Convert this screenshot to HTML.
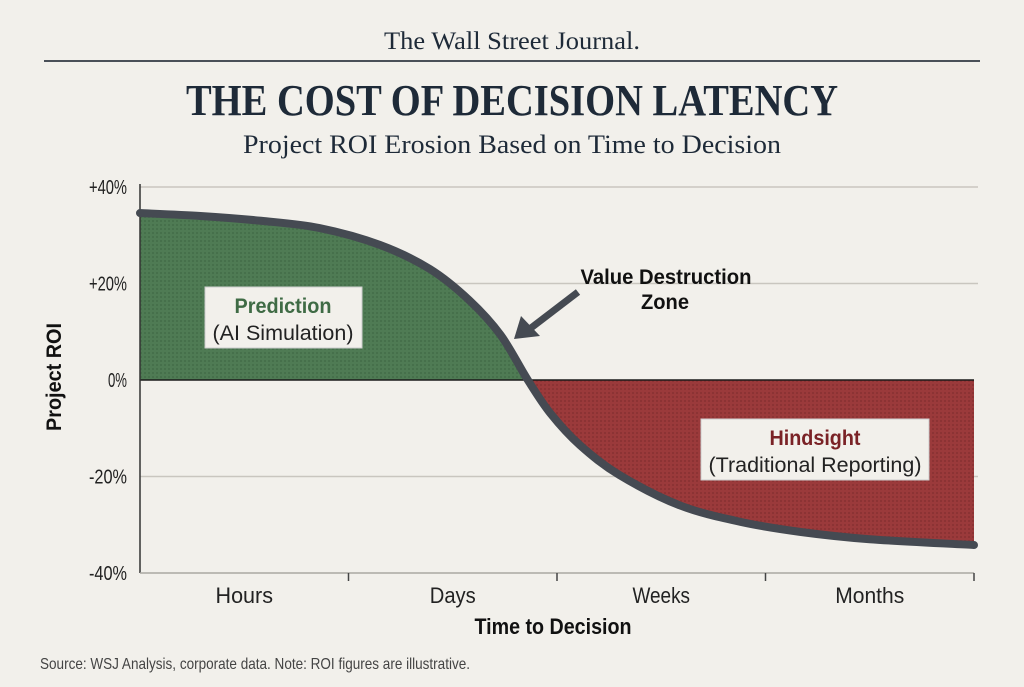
<!DOCTYPE html>
<html><head><meta charset="utf-8">
<style>
html,body{margin:0;padding:0;background:#f2f0eb;}
svg{display:block;}
.serif{font-family:"Liberation Serif",serif;}
.sans{font-family:"Liberation Sans Narrow","Liberation Sans",sans-serif;}
</style></head>
<body>
<svg id="chart" width="1024" height="687" viewBox="0 0 1024 687" xmlns="http://www.w3.org/2000/svg">
<defs>
<pattern id="dotG" width="4" height="4" patternUnits="userSpaceOnUse"><rect width="4" height="4" fill="#4f7b54"/><rect width="2" height="2" fill="#46704b"/></pattern>
<pattern id="dotR" width="4" height="4" patternUnits="userSpaceOnUse"><rect width="4" height="4" fill="#9b3a3b"/><rect width="2" height="2" fill="#8c3334"/></pattern>
</defs>
<rect width="1024" height="687" fill="#f2f0eb"/>
<text x="512" y="49" text-anchor="middle" class="serif" font-size="25" fill="#1e2a38" textLength="256" lengthAdjust="spacingAndGlyphs">The Wall Street Journal.</text>
<line x1="44" y1="61" x2="980" y2="61" stroke="#4a5058" stroke-width="2"/>
<text x="512" y="115" text-anchor="middle" class="serif" font-weight="bold" font-size="44" fill="#1e2a38" textLength="652" lengthAdjust="spacingAndGlyphs">THE COST OF DECISION LATENCY</text>
<text x="512" y="153" text-anchor="middle" class="serif" font-size="26" fill="#1e2a38" textLength="538" lengthAdjust="spacingAndGlyphs">Project ROI Erosion Based on Time to Decision</text>
<g id="plot"></g>
<text x="40" y="669" class="sans" font-size="16" fill="#444" textLength="430" lengthAdjust="spacingAndGlyphs">Source: WSJ Analysis, corporate data. Note: ROI figures are illustrative.</text>
</svg>
<script>
const categories = ["Hours","Days","Weeks","Months"];
const yTicks = [40,20,0,-20,-40];
const yTickLabels = ["+40%","+20%","0%","-20%","-40%"];
const curveT = [0,0.29,0.58,0.86,1.15,1.39,1.58,1.73,1.86,1.97,2.11,2.30,2.59,2.88,3.17,3.50,4.0];
const curveROI = [34.6,34,33,31.5,28,23,16.5,9.3,0,-7,-13.5,-19.7,-26,-29.4,-31.5,-33,-34.2];

const X0=140, X1=974, Y0=573, Y1=187;
const xs = t => X0 + t*(X1-X0)/categories.length;
const ys = v => Y0 - (v+40)*(Y0-Y1)/80;
const NS="http://www.w3.org/2000/svg";
const plot=document.getElementById('plot');
function mk(tag,attrs,parent){const e=document.createElementNS(NS,tag);for(const k in attrs)e.setAttribute(k,attrs[k]);(parent||plot).appendChild(e);return e;}
function fit(el,w){el.setAttribute('textLength',w);el.setAttribute('lengthAdjust','spacingAndGlyphs');}

yTicks.forEach((v,i)=>{
  if(v!==0 && v!==-40){
    const g=mk('line',{x1:X0,x2:X1+4,y1:ys(v),y2:ys(v),stroke:'#c9c6bf','stroke-width':1.5});
    
    
  }
  const t=mk('text',{x:X0-13,y:ys(v)+7,'text-anchor':'end','class':'sans','font-size':20,fill:'#222'});
  t.textContent=yTickLabels[i];
  fit(t, yTickLabels[i].length*9.5);
  
  
});

function pts(){return curveT.map((t,i)=>[xs(t),ys(curveROI[i])]);}
function smooth(p){let d='M'+p[0][0]+','+p[0][1];for(let i=0;i<p.length-1;i++){const p0=p[i-1]||p[i],p1=p[i],p2=p[i+1],p3=p[i+2]||p2;const c1=[p1[0]+(p2[0]-p0[0])/6,p1[1]+(p2[1]-p0[1])/6],c2=[p2[0]-(p3[0]-p1[0])/6,p2[1]-(p3[1]-p1[1])/6];d+=' C'+c1+' '+c2+' '+p2;}return d;}
const P=pts();
const linePath=smooth(P);
const zy=ys(0);
const cp=mk('clipPath',{id:'above'});mk('rect',{x:X0,y:0,width:X1-X0,height:zy},cp);
const cp2=mk('clipPath',{id:'below'});mk('rect',{x:X0,y:zy,width:X1-X0,height:400},cp2);
const areaD=linePath+' L'+X1+','+zy+' L'+X0+','+zy+' Z';
const ag=mk('path',{d:areaD,fill:'url(#dotG)','clip-path':'url(#above)'});


const ar=mk('path',{d:areaD,fill:'url(#dotR)','clip-path':'url(#below)'});



const zl=mk('line',{x1:X0,x2:X1,y1:zy,y2:zy,stroke:'#1a1a1a','stroke-width':1.5});



const ya=mk('line',{x1:X0,x2:X0,y1:Y1-3,y2:Y0,stroke:'#333','stroke-width':1.5});


const xa=mk('line',{x1:X0,x2:X1,y1:Y0,y2:Y0,stroke:'#a9a7a2','stroke-width':1.5});


for(let i=1;i<=categories.length;i++){
  const tk=mk('line',{x1:xs(i),x2:xs(i),y1:Y0,y2:Y0+8,stroke:'#444','stroke-width':1.5});
  
  
}
categories.forEach((c,i)=>{
  const t=mk('text',{x:xs(i+0.5),y:603,'text-anchor':'middle','class':'sans','font-size':22,fill:'#222'});
  t.textContent=c;
  fit(t, c.length*11.5);
  
  
});

const ln=mk('path',{d:linePath,fill:'none',stroke:'#454a52','stroke-width':8,'stroke-linecap':'round'});



const xt=mk('text',{x:553,y:634,'text-anchor':'middle','class':'sans','font-size':22,'font-weight':'bold',fill:'#111'});
xt.textContent='Time to Decision';
fit(xt,157);


const yt=mk('text',{x:0,y:0,'text-anchor':'middle','class':'sans','font-size':21,'font-weight':'bold',fill:'#111',transform:'translate(61,377) rotate(-90)'});
yt.textContent='Project ROI';
fit(yt,108);



const b1=mk('rect',{x:205,y:287,width:157,height:61,fill:'#f2f0eb',stroke:'#ccc'});


const t1=mk('text',{x:283,y:313,'text-anchor':'middle','class':'sans','font-size':21,'font-weight':'bold',fill:'#3f6b45'});
t1.textContent='Prediction';
fit(t1,97);


const t1b=mk('text',{x:283,y:340,'text-anchor':'middle','class':'sans','font-size':21,fill:'#222'});
t1b.textContent='(AI Simulation)';
fit(t1b,141);


const b2=mk('rect',{x:701,y:419,width:228,height:61,fill:'#f2f0eb',stroke:'#ccc'});


const t2=mk('text',{x:815,y:445,'text-anchor':'middle','class':'sans','font-size':21,'font-weight':'bold',fill:'#7a2226'});
t2.textContent='Hindsight';
fit(t2,91);


const t2b=mk('text',{x:815,y:472,'text-anchor':'middle','class':'sans','font-size':21,fill:'#222'});
t2b.textContent='(Traditional Reporting)';
fit(t2b,213);



const a1=mk('text',{x:666,y:284,'text-anchor':'middle','class':'sans','font-size':21,'font-weight':'bold',fill:'#111'});
a1.textContent='Value Destruction';
fit(a1,171);


const a2=mk('text',{x:665,y:309,'text-anchor':'middle','class':'sans','font-size':21,'font-weight':'bold',fill:'#111'});
a2.textContent='Zone';
fit(a2,48);


const arr=mk('line',{x1:578,y1:292,x2:527,y2:331,stroke:'#454a52','stroke-width':7});


const ah=mk('polygon',{points:'514,339 521,316 540,336',fill:'#454a52'});


</script>
</body></html>
